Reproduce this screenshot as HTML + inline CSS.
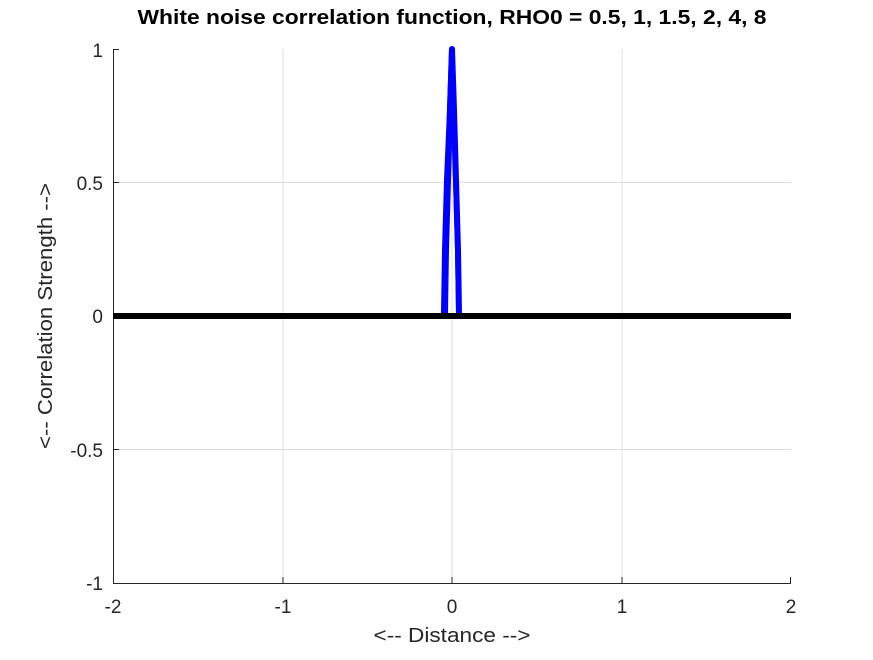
<!DOCTYPE html><html><head><style>body{margin:0;background:#fff}</style></head><body>
<svg width="873" height="655" xmlns="http://www.w3.org/2000/svg" font-family="Liberation Sans, sans-serif">
<rect width="873" height="655" fill="#fff"/>
<g stroke="#e0e0e0" stroke-width="1">
<line x1="283" y1="49" x2="283" y2="583"/><line x1="452" y1="49" x2="452" y2="583"/><line x1="622" y1="49" x2="622" y2="583"/>
<line x1="113" y1="182.5" x2="791" y2="182.5"/><line x1="113" y1="316" x2="791" y2="316"/><line x1="113" y1="449.5" x2="791" y2="449.5"/>
</g>
<g stroke="#262626" stroke-width="1" fill="none">
<line x1="113.5" y1="49" x2="113.5" y2="583"/><line x1="113" y1="583.5" x2="791" y2="583.5"/>
<line x1="113" y1="49.5" x2="119" y2="49.5"/><line x1="113" y1="182.5" x2="119" y2="182.5"/><line x1="113" y1="316" x2="119" y2="316"/><line x1="113" y1="449.5" x2="119" y2="449.5"/>
<line x1="113.5" y1="583" x2="113.5" y2="577"/><line x1="283" y1="583" x2="283" y2="577"/><line x1="452" y1="583" x2="452" y2="577"/><line x1="622" y1="583" x2="622" y2="577"/><line x1="790.5" y1="583" x2="790.5" y2="577"/>
</g>
<polyline points="445,313 446,250 448,180 450,110 452,49 454,110 456,180 458,250 459,313" fill="none" stroke="#0000ff" stroke-width="6" stroke-linejoin="round"/>
<polyline points="443,313 444,250 446,180 449,110 451,49 453,110 455,180 457,250 458,313" fill="none" stroke="#0000ff" stroke-width="4" stroke-linejoin="round"/>
<line x1="113" y1="316" x2="791" y2="316" stroke="#000" stroke-width="6"/>
<g font-size="19" fill="#262626" text-anchor="end">
<text x="103" y="57">1</text><text x="103" y="190">0.5</text><text x="103" y="323">0</text><text x="103" y="457">-0.5</text><text x="103" y="590">-1</text>
</g>
<g font-size="19" fill="#262626" text-anchor="middle">
<text x="113" y="613">-2</text><text x="283" y="613">-1</text><text x="452" y="613">0</text><text x="622" y="613">1</text><text x="791" y="613">2</text>
<text x="452" y="642" font-size="20" textLength="157" lengthAdjust="spacingAndGlyphs">&lt;-- Distance --&gt;</text>
<text transform="translate(52,316) rotate(-90)" font-size="20" textLength="266" lengthAdjust="spacingAndGlyphs">&lt;-- Correlation Strength --&gt;</text>
<text x="452" y="24" font-size="20" font-weight="bold" fill="#000" textLength="629" lengthAdjust="spacingAndGlyphs">White noise correlation function, RHO0 = 0.5, 1, 1.5, 2, 4, 8</text>
</g>
</svg></body></html>
